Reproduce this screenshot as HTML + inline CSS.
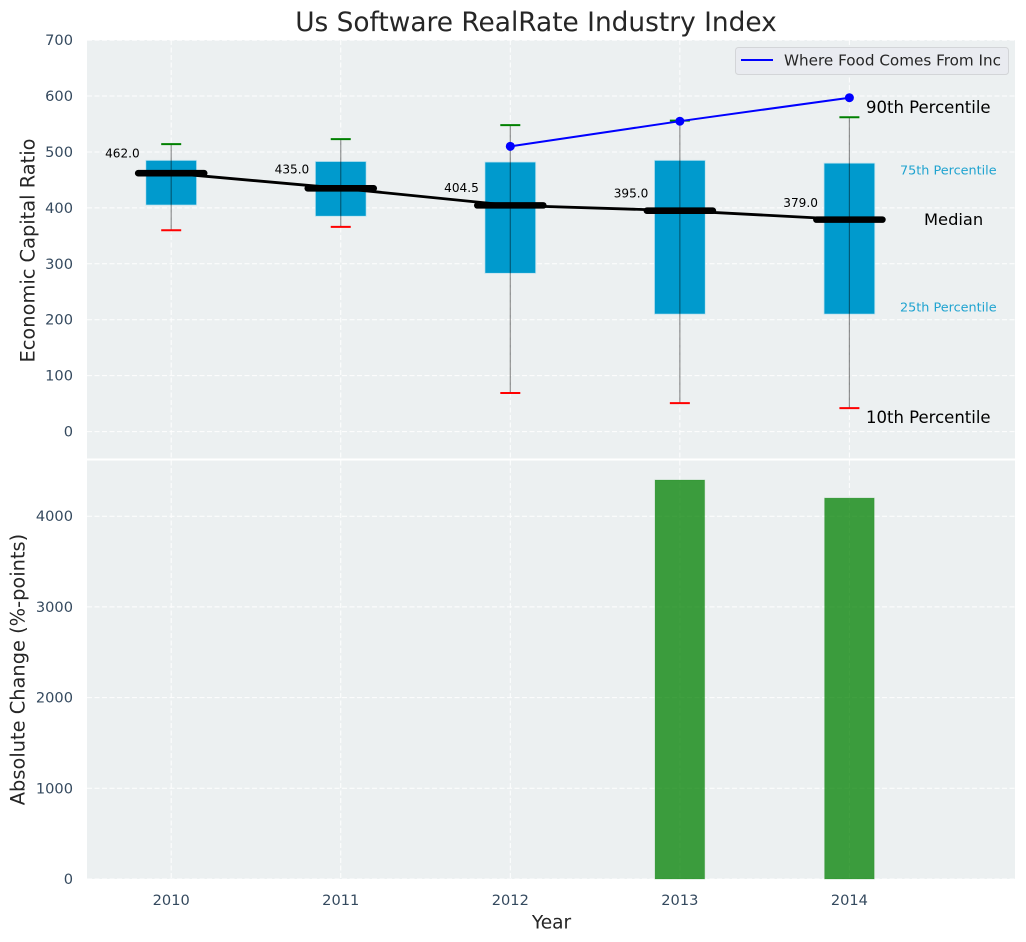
<!DOCTYPE html>
<html>
<head>
<meta charset="utf-8">
<title>Us Software RealRate Industry Index</title>
<style>
html,body{margin:0;padding:0;background:#fff;}
svg{display:block;font-family:"DejaVu Sans","Liberation Sans",sans-serif;}
</style>
</head>
<body>
<svg id="chart" xmlns="http://www.w3.org/2000/svg" width="1026" height="942" viewBox="0 0 1026 942">
  <rect width="1026" height="942" fill="#ffffff"/>
  <text x="536" y="31" font-size="26.4" fill="#262626" text-anchor="middle">Us Software RealRate Industry Index</text>
  <rect x="87" y="40" width="928" height="418.5" fill="#ecf0f1"/>
  <rect x="87" y="460.5" width="928" height="418.5" fill="#ecf0f1"/>
  <g id="grid"></g>
  <g id="bars"></g>
  <g id="boxes"></g>
  <g id="ticks"></g>
  <g id="series"></g>
  <text transform="translate(34.5,250.5) rotate(-90)" font-size="19.4" fill="#262626" text-anchor="middle">Economic Capital Ratio</text>
  <text transform="translate(24.5,669.5) rotate(-90)" font-size="19.4" fill="#262626" text-anchor="middle">Absolute Change (%-points)</text>
  <text x="551.5" y="928.5" font-size="18.6" fill="#262626" text-anchor="middle">Year</text>
  <text x="866" y="113" font-size="16.5" fill="#000">90th Percentile</text>
  <text x="900" y="174.5" font-size="12.8" fill="#1fa3d0">75th Percentile</text>
  <text x="924" y="225" font-size="16.3" fill="#000">Median</text>
  <text x="900" y="311.5" font-size="12.8" fill="#1fa3d0">25th Percentile</text>
  <text x="866" y="423" font-size="16.5" fill="#000">10th Percentile</text>
  <g>
    <rect x="735.5" y="47.5" width="273" height="27" rx="3" fill="#e9ebf0" stroke="#d3d5d8" stroke-width="1"/>
    <line x1="741" y1="60" x2="773" y2="60" stroke="#0000ff" stroke-width="2"/>
    <text x="784" y="65.5" font-size="15.2" fill="#262626">Where Food Comes From Inc</text>
  </g>
</svg>
<script>
const years = [2010, 2011, 2012, 2013, 2014];
const p90 = [514, 523, 548, 556, 562];
const p75 = [485, 483, 482, 485, 480];
const median = [462, 435, 404.5, 395, 379];
const p25 = [405, 385, 283, 210, 210];
const p10 = [360, 366, 69, 51, 42];
const medianLabels = ["462.0", "435.0", "404.5", "395.0", "379.0"];
const companyValues = [null, null, 510, 555, 597];
const changeValues = [0, 0, 0, 4399, 4200];
const topTicks = [0, 100, 200, 300, 400, 500, 600, 700];
const bottomTicks = [0, 1000, 2000, 3000, 4000];

const NS = 'http://www.w3.org/2000/svg';
function x(year) { return 171.2 + (year - 2010) * 169.55; }
function yTop(v) { return 431.6 - v * 0.5593; }
function yBottom(v) { return 879 - v * 0.0907; }
function make(parent, tag, attrs) {
  const el = document.createElementNS(NS, tag);
  for (const k in attrs) el.setAttribute(k, attrs[k]);
  document.getElementById(parent).appendChild(el);
  return el;
}
const GRID = { stroke: '#ffffff', 'stroke-width': 1, 'stroke-dasharray': '5 2.5', opacity: 0.95 };
const TICK_SIZE = 14.6;

topTicks.forEach(function (t) {
  const g = make('grid', 'line', Object.assign({ x1: 87, x2: 1015, y1: yTop(t), y2: yTop(t) }, GRID));
  
  
  const lab = make('ticks', 'text', { x: 73, y: yTop(t) + 5, 'font-size': TICK_SIZE, fill: '#34495e', 'text-anchor': 'end' });
  lab.textContent = t;
  
  
});
bottomTicks.forEach(function (t) {
  const g = make('grid', 'line', Object.assign({ x1: 87, x2: 1015, y1: yBottom(t), y2: yBottom(t) }, GRID));
  
  
  const lab = make('ticks', 'text', { x: 73, y: yBottom(t) + 5, 'font-size': TICK_SIZE, fill: '#34495e', 'text-anchor': 'end' });
  lab.textContent = t;
  
  
});
years.forEach(function (yr) {
  const g1 = make('grid', 'line', Object.assign({ x1: x(yr), x2: x(yr), y1: 40, y2: 458.5 }, GRID));
  
  
  const g2 = make('grid', 'line', Object.assign({ x1: x(yr), x2: x(yr), y1: 460.5, y2: 879 }, GRID));
  
  
  const lab = make('ticks', 'text', { x: x(yr), y: 905, 'font-size': TICK_SIZE, fill: '#34495e', 'text-anchor': 'middle' });
  lab.textContent = yr;
  
  
});

changeValues.forEach(function (v, i) {
  const b = make('bars', 'rect', {
    x: x(years[i]) - 24.8, y: yBottom(v), width: 49.6, height: yBottom(0) - yBottom(v),
    fill: '#008000', 'fill-opacity': 0.75, stroke: '#008000', 'stroke-opacity': 0.2, 'stroke-width': 1
  });
  
  
});

years.forEach(function (yr, i) {
  const cx = x(yr);
  const box = make('boxes', 'rect', {
    x: cx - 25.4, y: yTop(p75[i]), width: 50.8, height: yTop(p25[i]) - yTop(p75[i]),
    fill: '#009acd', stroke: '#bfe3ef', 'stroke-width': 0.8
  });
  
  
  const whisker = make('boxes', 'line', {
    x1: cx, x2: cx, y1: yTop(p90[i]), y2: yTop(p10[i]),
    stroke: '#000', 'stroke-opacity': 0.42, 'stroke-width': 1.2
  });
  
  
  const capHigh = make('boxes', 'line', {
    x1: cx - 10, x2: cx + 10, y1: yTop(p90[i]), y2: yTop(p90[i]), stroke: '#008000', 'stroke-width': 2
  });
  
  
  const capLow = make('boxes', 'line', {
    x1: cx - 10, x2: cx + 10, y1: yTop(p10[i]), y2: yTop(p10[i]), stroke: '#ff0000', 'stroke-width': 2
  });
  
  
});

const medianPath = make('series', 'polyline', {
  points: years.map(function (yr, i) { return x(yr) + ',' + yTop(median[i]); }).join(' '),
  fill: 'none', stroke: '#000', 'stroke-width': 2.8
});



years.forEach(function (yr, i) {
  const cx = x(yr);
  const m = make('series', 'line', {
    x1: cx - 33, x2: cx + 33, y1: yTop(median[i]), y2: yTop(median[i]),
    stroke: '#000', 'stroke-width': 6.6, 'stroke-linecap': 'round'
  });
  
  
  const lab = make('series', 'text', {
    x: cx - 31.5, y: yTop(median[i] * 1.06), 'font-size': 12.1, fill: '#000', 'text-anchor': 'end'
  });
  lab.textContent = medianLabels[i];
  
  
});

const companyYears = years.filter(function (yr, i) { return companyValues[i] !== null; });
const companyPath = make('series', 'polyline', {
  points: companyYears.map(function (yr) { return x(yr) + ',' + yTop(companyValues[years.indexOf(yr)]); }).join(' '),
  fill: 'none', stroke: '#0000ff', 'stroke-width': 2
});


companyYears.forEach(function (yr) {
  const p = make('series', 'circle', {
    cx: x(yr), cy: yTop(companyValues[years.indexOf(yr)]), r: 4.5, fill: '#0000ff'
  });
  
  
});
</script>
</body>
</html>
